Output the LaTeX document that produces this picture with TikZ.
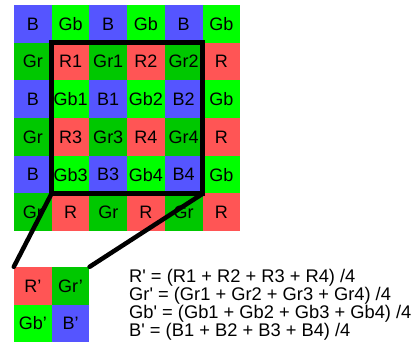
\documentclass[tikz,border=0pt]{standalone}
\usepackage{fontspec}
\setmainfont{Liberation Sans}
\definecolor{bayerB}{RGB}{85,85,255}
\definecolor{bayerGb}{RGB}{0,255,0}
\definecolor{bayerGr}{RGB}{0,200,0}
\definecolor{bayerR}{RGB}{255,85,85}
\begin{document}
\begin{tikzpicture}[
		x=1pt, y=1pt,
		cell/.style={rectangle, minimum size=37.7pt, inner sep=0pt, font=\fontsize{18}{18}\selectfont},
		cell00/.style={cell, fill=bayerB},
		cell01/.style={cell, fill=bayerGb},
		cell10/.style={cell, fill=bayerGr},
		cell11/.style={cell, fill=bayerR},
		frame/.style={line width=4.5pt, line cap=round}
		]
		\useasboundingbox (0,0) rectangle (420,343);
		% Bayer pattern 6x6
		\foreach \row [count=\i from 0] in {{B,Gb,B,Gb,B,Gb},{Gr,R1,Gr1,R2,Gr2,R},{B,Gb1,B1,Gb2,B2,Gb},{Gr,R3,Gr3,R4,Gr4,R},{B,Gb3,B3,Gb4,B4,Gb},{Gr,R,Gr,R,Gr,R}}
		\foreach \lab [count=\j from 0] in \row {
			\pgfmathtruncatemacro\pr{mod(\i,2)}
			\pgfmathtruncatemacro\pc{mod(\j,2)}
			\node[cell\pr\pc] (c-\i-\j) at ({14+37.7*(\j+0.5)},{338-37.7*(\i+0.5)}) {\lab};
		}
		% Binned 2x2 result
		\node[cell11] (s-0-0) at ({14+18.85},{76-18.85}) {R’};
		\node[cell10] (s-0-1) at ({14+37.7+18.85},{76-18.85}) {Gr’};
		\node[cell01] (s-1-0) at ({14+18.85},{76-37.7-18.85}) {Gb’};
		\node[cell00] (s-1-1) at ({14+37.7+18.85},{76-37.7-18.85}) {B’};
		% Frame and connectors
		\draw[frame] (c-1-1.north west) rectangle (c-4-4.south east);
		\draw[frame] (c-4-1.south west) -- (s-0-0.north west);
		\draw[frame] (c-4-4.south east) -- (s-0-1.north east);
		% Formulas
		\node[anchor=north west, align=left, inner sep=0pt, font=\fontsize{18.3}{15}\selectfont] (eqs) at (129,74) {R\textquotesingle{} = (R1 + R2 + R3 + R4) /4\\
			Gr\textquotesingle{} = (Gr1 + Gr2 + Gr3 + Gr4) /4\\
			Gb\textquotesingle{} = (Gb1 + Gb2 + Gb3 + Gb4) /4\\
			B\textquotesingle{} = (B1 + B2 + B3 + B4) /4};
\end{tikzpicture}
\end{document}
